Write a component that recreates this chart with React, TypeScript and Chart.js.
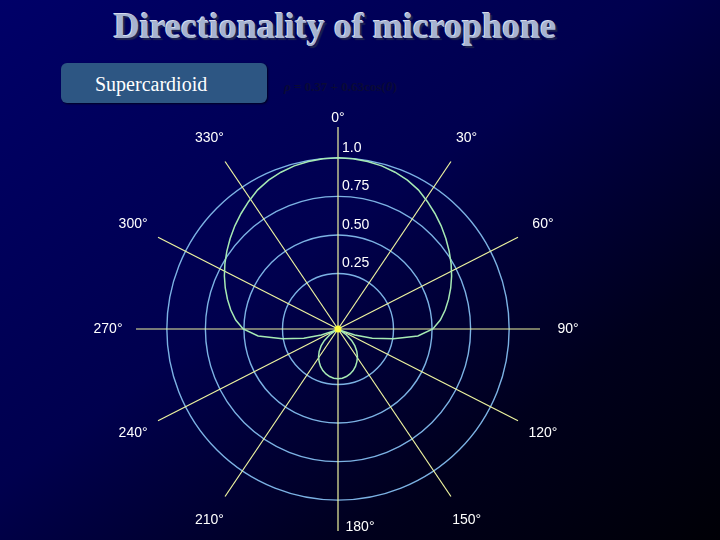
import React, { useEffect, useRef } from 'react';
import { Chart, registerables } from 'chart.js';

Chart.register(...registerables);

// angular resolution of the radial category axis (one label per degree)
const degreeLabels: number[] = Array.from({ length: 360 }, (_, i) => i);

// angles (degrees, clockwise from the top) at which the response was read
const sampleAngles: number[] = [
  0, 5, 10, 15, 20, 25, 30, 35, 40, 45, 50, 55, 60, 65, 70, 75, 80, 85,
  90, 95, 100, 105, 110, 115, 120, 125, 130, 135, 140, 145, 150, 155, 160, 165, 170, 175,
  180, 185, 190, 195, 200, 205, 210, 215, 220, 225, 230, 235, 240, 245, 250, 255, 260, 265,
  270, 275, 280, 285, 290, 295, 300, 305, 310, 315, 320, 325, 330, 335, 340, 345, 350, 355,
];

// response (radial-scale units)
const responseValues: number[] = [
  1.0, 0.998, 0.993, 0.985, 0.972, 0.955, 0.932, 0.9, 0.868, 0.836, 0.803, 0.77,
  0.737, 0.703, 0.668, 0.632, 0.596, 0.556, 0.505, 0.41, 0.255, 0.12, 0.005, -0.085,
  -0.105, -0.045, 0.005, 0.045, 0.08, 0.11, 0.135, 0.158, 0.177, 0.192, 0.203, 0.21,
  0.212, 0.21, 0.203, 0.192, 0.177, 0.158, 0.135, 0.11, 0.08, 0.045, 0.005, -0.045,
  -0.105, -0.085, 0.005, 0.12, 0.255, 0.41, 0.505, 0.556, 0.596, 0.632, 0.668, 0.703,
  0.737, 0.77, 0.803, 0.836, 0.868, 0.9, 0.932, 0.955, 0.972, 0.985, 0.993, 0.998,
];

const tickValues: number[] = [0.25, 0.5, 0.75, 1.0];
const tickLabels: string[] = ['0.25', '0.50', '0.75', '1.0'];

// directions of the drawn spokes as they appear in the picture
const spokeAngles: number[] = [0, 34, 63, 90, 117, 146, 180, 214, 243, 270, 297, 326];
const angleLabels: string[] = ['0°', '30°', '60°', '90°', '120°', '150°', '180°', '210°', '240°', '270°', '300°', '330°'];

const titleText = 'Directionality of microphone';
const boxText = 'Supercardioid';

const SPOKE = '#eef4a0';
const RING = '#7cb2e4';
const CURVE = '#a6eab4';

const responseTable: (number | null)[] = degreeLabels.map((d) => {
  const k = sampleAngles.indexOf(d);
  return k >= 0 ? responseValues[k] : null;
});

const polarTextPlugin = {
  id: 'polarText',
  afterDatasetsDraw(chart: any) {
    const s = chart.scales.r;
    const ctx = chart.ctx as CanvasRenderingContext2D;
    ctx.save();
    ctx.fillStyle = '#ffff40';
    ctx.beginPath();
    ctx.arc(s.xCenter, s.yCenter, 3.5, 0, Math.PI * 2);
    ctx.fill();

    ctx.fillStyle = '#ffffff';
    ctx.font = '14px "Liberation Sans", Arial, sans-serif';
    ctx.textBaseline = 'middle';
    ctx.textAlign = 'left';
    tickValues.forEach((v, i) => {
      const d = s.getDistanceFromCenterForValue(v);
      ctx.fillText(tickLabels[i], s.xCenter + 4, s.yCenter - d - 10);
    });

    ctx.textAlign = 'center';
    spokeAngles.forEach((a, i) => {
      let dist = s.drawingArea + 28;
      let dx = 0;
      if (a === 0) dist = s.drawingArea + 9;
      if (a === 180) {
        dist = s.drawingArea - 4;
        dx = 22;
      }
      const p = s.getPointPosition(degreeLabels.indexOf(a), dist);
      ctx.fillText(angleLabels[i], p.x + dx, p.y);
    });
    ctx.restore();
  },
};

export default function App() {
  const ref = useRef<HTMLCanvasElement>(null);

  useEffect(() => {
    const chart = new Chart(ref.current as HTMLCanvasElement, {
      type: 'radar',
      data: {
        labels: degreeLabels.map((a) => String(a)),
        datasets: [
          {
            data: responseTable,
            borderColor: CURVE,
            borderWidth: 1.5,
            fill: false,
            spanGaps: true,
            pointRadius: 0,
            pointHitRadius: 0,
            tension: 0,
          },
        ],
      },
      options: {
        responsive: false,
        animation: false,
        layout: { padding: { left: 136, right: 180, top: 127, bottom: 9 } },
        plugins: {
          legend: { display: false },
          tooltip: { enabled: false },
        },
        scales: {
          r: {
            min: -0.11,
            max: 1.2,
            startAngle: 0,
            afterBuildTicks: (scale: any) => {
              scale.ticks = tickValues.map((v) => ({ value: v }));
            },
            ticks: { display: false },
            pointLabels: { display: false },
            grid: {
              circular: true,
              color: RING,
              lineWidth: 1.4,
            },
            angleLines: {
              display: true,
              color: SPOKE,
              lineWidth: (ctx: any) => (spokeAngles.includes(degreeLabels[ctx.index]) ? 1.2 : 0),
            },
          },
        },
      },
      plugins: [polarTextPlugin],
    } as any);
    return () => chart.destroy();
  }, []);

  return (
    <div
      style={{
        position: 'fixed',
        left: 0,
        top: 0,
        width: 720,
        height: 540,
        overflow: 'hidden',
        background: 'linear-gradient(to bottom right, #000068 0%, #00004e 45%, #00001c 75%, #000006 100%)',
      }}
    >
      <div
        style={{
          position: 'absolute',
          left: 0,
          width: 670,
          top: 6,
          textAlign: 'center',
          fontFamily: '"Liberation Serif", "Times New Roman", serif',
          fontWeight: 'bold',
          fontSize: 36,
          lineHeight: '41px',
          color: '#a6b3d0',
          textShadow: '-1px -1px 0 #d4dcef, 2px 2px 1px #1e2450',
          whiteSpace: 'nowrap',
        }}
      >
        {titleText}
      </div>
      <div
        style={{
          position: 'absolute',
          left: 61,
          top: 63,
          width: 206,
          height: 40,
          borderRadius: 6,
          background: '#2d5683',
          boxShadow: '1px 1px 2px #000022',
        }}
      />
      <div
        style={{
          position: 'absolute',
          left: 95,
          top: 72,
          fontFamily: '"Liberation Serif", "Times New Roman", serif',
          fontSize: 20,
          lineHeight: '24px',
          color: '#ffffff',
          whiteSpace: 'nowrap',
        }}
      >
        {boxText}
      </div>
      <div
        style={{
          position: 'absolute',
          left: 284,
          top: 78,
          fontFamily: '"Liberation Serif", "Times New Roman", serif',
          fontSize: 13,
          fontWeight: 'bold',
          lineHeight: '17px',
          color: '#0a0a36',
          whiteSpace: 'nowrap',
        }}
      >
        <i>ρ</i> = 0.37 + 0.63cos(<i>θ</i>)
      </div>
      <canvas ref={ref} width={720} height={540} style={{ position: 'absolute', left: 0, top: 0 }} />
    </div>
  );
}
